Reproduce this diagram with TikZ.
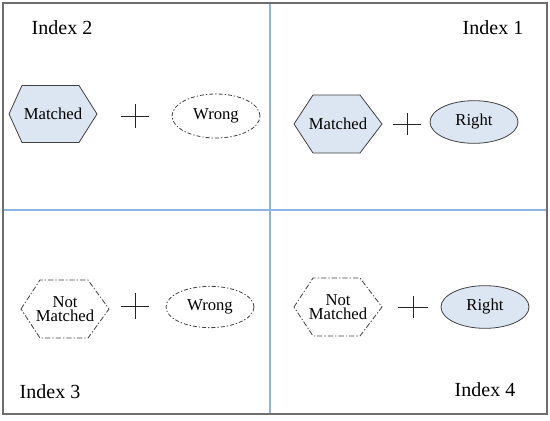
\documentclass[tikz,border=0pt]{standalone}
\usepackage{fontspec}
\setmainfont{Liberation Serif}
\usetikzlibrary{shapes.geometric}

\definecolor{gridblue}{HTML}{8DB3E2}
\definecolor{shapefill}{HTML}{DCE6F2}
\definecolor{framegray}{HTML}{6E6E6E}

\begin{document}
\begin{tikzpicture}[x=0.75pt,y=-0.75pt,
        hexa/.style={draw=black!75,line width=0.6pt},
        hexafill/.style={hexa,fill=shapefill},
        hexadash/.style={hexa,dash pattern=on 4pt off 1.5pt on 1pt off 1.5pt},
        oval/.style={ellipse,draw=black!75,line width=0.6pt,minimum width=66pt,minimum height=33pt,inner sep=0pt},
        ovalfill/.style={oval,fill=shapefill},
        ovaldash/.style={oval,dash pattern=on 3pt off 1.5pt on 1pt off 1.5pt},
        lbl/.style={font=\fontsize{12.5}{11}\selectfont,align=center},
        idx/.style={font=\fontsize{15}{16}\selectfont},
        plus/.style={draw=black!85,line width=0.6pt}]
    \useasboundingbox (0,0) rectangle (550,421);

    % frame and quadrant lines
    \coordinate (tl) at (3,3);
    \coordinate (br) at (547,414);
    \coordinate (vt) at (270,3);
    \coordinate (vb) at (270,414);
    \coordinate (hl) at (3,210);
    \coordinate (hr) at (547,210);
    \draw[gridblue,line width=1.5pt] (vt) -- (vb);
    \draw[gridblue,line width=1.5pt] (hl) -- (hr);
    \draw[framegray,line width=1.3pt] (tl) rectangle (br);

    % Index 2
    \node[idx] (i2) at (62,28) {Index 2};
    \draw[hexafill,shift={(53,114)}] (-44,0) -- (-31,-28.5) -- (26,-28.5) -- (44,0) -- (26,28.5) -- (-31,28.5) -- cycle;
    \node[lbl] (m2) at (53,114) {Matched};
    \coordinate (p2) at (135,116);
    \draw[plus] ([xshift=-10.5pt]p2) -- ([xshift=10.5pt]p2);
    \draw[plus] ([yshift=-9pt]p2) -- ([yshift=9pt]p2);
    \node[ovaldash,lbl] (w2) at (216,116) {Wrong};

    % Index 1
    \node[idx] (i1) at (493,28) {Index 1};
    \draw[hexafill,shift={(338,124)}] (-44,0) -- (-25,-29) -- (22,-29) -- (44,0) -- (22,29) -- (-25,29) -- cycle;
    \node[lbl] (m1) at (338,124) {Matched};
    \coordinate (p1) at (407,124);
    \draw[plus] ([xshift=-10.5pt]p1) -- ([xshift=10.5pt]p1);
    \draw[plus] ([yshift=-8pt]p1) -- ([yshift=8pt]p1);
    \node[ovalfill,lbl,minimum height=32pt] (r1) at (474,122) {Right};

    % Index 3
    \node[idx] (i3) at (50,392) {Index 3};
    \draw[hexadash,shift={(65,309)}] (-44,0) -- (-25,-29) -- (23,-29) -- (44,0) -- (23,29) -- (-25,29) -- cycle;
    \node[lbl] (m3) at (65,309) {Not\\Matched};
    \coordinate (p3) at (135,306);
    \draw[plus] ([xshift=-10.5pt]p3) -- ([xshift=10.5pt]p3);
    \draw[plus] ([yshift=-9.5pt]p3) -- ([yshift=9.5pt]p3);
    \node[ovaldash,lbl,minimum height=31pt] (w3) at (210,307) {Wrong};

    % Index 4
    \node[idx] (i4) at (485,390) {Index 4};
    \draw[hexadash,shift={(338,307)}] (-44,0) -- (-25,-29) -- (22,-29) -- (44,0) -- (22,29) -- (-25,29) -- cycle;
    \node[lbl] (m4) at (338,307) {Not\\Matched};
    \coordinate (p4) at (413,307);
    \draw[plus] ([xshift=-11pt]p4) -- ([xshift=11pt]p4);
    \draw[plus] ([yshift=-8pt]p4) -- ([yshift=8pt]p4);
    \node[ovalfill,lbl,minimum height=32pt] (r4) at (485,307) {Right};
\end{tikzpicture}
\end{document}
